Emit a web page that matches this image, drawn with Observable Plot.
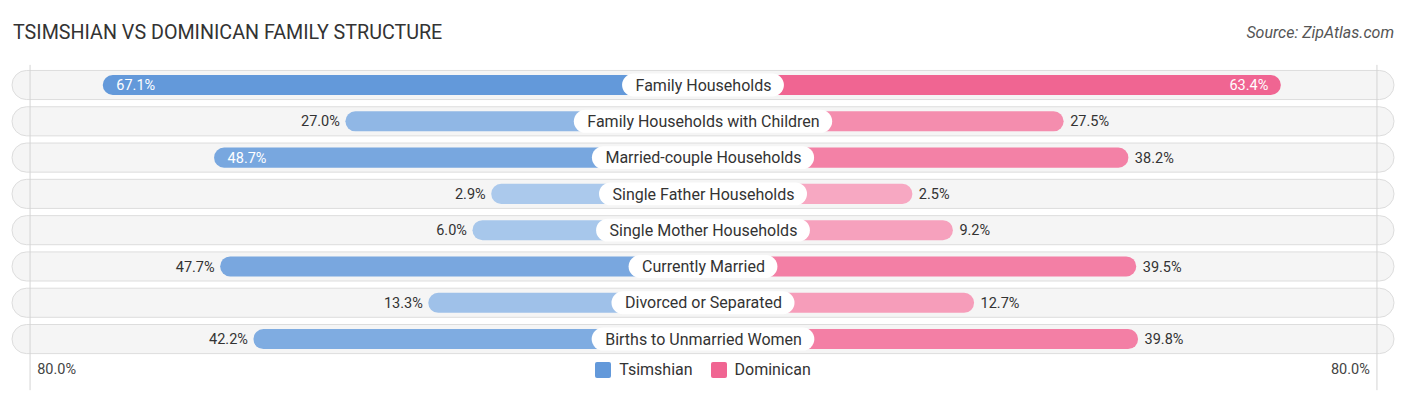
<!DOCTYPE html>
<html><head><meta charset="utf-8">
<script src="https://cdn.jsdelivr.net/npm/d3@7"></script>
<script src="https://cdn.jsdelivr.net/npm/@observablehq/plot@0.6"></script>
<style>
body{margin:0;background:#fff;font-family:Roboto,sans-serif;}
#wrap{position:relative;width:1406px;height:395px;overflow:hidden;}
#title{position:absolute;left:13px;top:21px;font-size:19.7px;line-height:24px;color:#333;}
#source{position:absolute;right:12px;top:23px;font-size:16px;line-height:20px;font-style:italic;color:#555}
#chart{position:absolute;left:0;top:60px}
#legend{position:absolute;left:0;width:1406px;top:360px;display:flex;justify-content:center;align-items:center;gap:18px;font-size:16px;line-height:20px;color:#333}
.li{display:flex;align-items:center;gap:8px}
.sw{width:16px;height:16px;border-radius:2px;display:inline-block}
</style></head>
<body><div id="wrap">
<div id="title">TSIMSHIAN VS DOMINICAN FAMILY STRUCTURE</div>
<div id="source">Source: ZipAtlas.com</div>
<div id="chart"></div>
<div id="legend"></div>
</div>
<script>
const categories = ["Family Households","Family Households with Children","Married-couple Households","Single Father Households","Single Mother Households","Currently Married","Divorced or Separated","Births to Unmarried Women"];
const tsimshian = [67.1,27.0,48.7,2.9,6.0,47.7,13.3,42.2];
const dominican = [63.4,27.5,38.2,2.5,9.2,39.5,12.7,39.8];
const seriesNames = ["Tsimshian","Dominican"];
const axisMax = 80;
const axisLabel = "80.0%";

// layout / style constants
const W = 1406, H = 335;
const OFFSET = 32.1;      // bar start offset (scale units) under centre label
const X_EXT = 114.2;      // half-extent of the background pill
const fullColors = ["#6399da", "#f06592"];
const lightColors = ["#aecbed", "#f7abc4"];
const INSIDE_MIN = 48;
const LABEL_FONT = 16;

const rows = [];
categories.forEach((c, i) => {
  rows.push({cat: c, side: -1, s: 0, v: tsimshian[i]});
  rows.push({cat: c, side: 1, s: 1, v: dominican[i]});
});
const maxV = [d3.max(tsimshian), d3.max(dominican)];
const interps = [0,1].map(k => d3.interpolateRgb(lightColors[k], fullColors[k]));
const fillOf = d => interps[d.s](d.v / maxV[d.s]);
const xEnd = d => d.side * (OFFSET + d.v);
const fmt = v => v.toFixed(1) + "%";

const mL = 12, mR = 12;
const pxPerUnit = (W - mL - mR) / (2 * X_EXT);
const cv = document.createElement("canvas").getContext("2d");
cv.font = LABEL_FONT + "px Roboto";
const labels = categories.map(c => ({cat: c, half: (cv.measureText(c).width / 2 + 13) / pxPerUnit}));

const inside = d => d.v >= INSIDE_MIN;
const chart = Plot.plot({
  width: W, height: H,
  marginLeft: mL, marginRight: mR, marginTop: 6.86, marginBottom: 37.8,
  x: {domain: [-X_EXT, X_EXT], axis: null},
  y: {domain: categories, axis: null, padding: 0, round: false},
  style: {fontFamily: "Roboto, sans-serif", background: "transparent"},
  marks: [
    Plot.barX(categories, {y: d => d, x1: -X_EXT, x2: X_EXT, insetTop: 3.6, insetBottom: 3.6, rx: 14.5, fill: "#f5f5f5", stroke: "#dddddd", strokeWidth: 1}),
    Plot.ruleX([-(axisMax + OFFSET - 0.8), axisMax + OFFSET - 0.8], {stroke: "#d4d4d4", strokeWidth: 1, insetTop: -2, insetBottom: -33}),
    Plot.barX(rows, {y: "cat", x1: 0, x2: xEnd, insetTop: 8.1, insetBottom: 8.1, rx: 10, fill: fillOf}),
    Plot.barX(labels, {y: "cat", x1: d => -d.half, x2: d => d.half, insetTop: 6.7, insetBottom: 6.7, rx: 11.5, fill: "white"}),
    Plot.text(labels, {y: "cat", x: 0, text: "cat", fontSize: LABEL_FONT, fill: "#333"}),
    Plot.text(rows.filter(d => d.side < 0 && inside(d)), {y: "cat", x: xEnd, text: d => fmt(d.v), textAnchor: "start", dx: 13, fontSize: 14.5, fill: "white"}),
    Plot.text(rows.filter(d => d.side < 0 && !inside(d)), {y: "cat", x: xEnd, text: d => fmt(d.v), textAnchor: "end", dx: -6, fontSize: 14.5, fill: "#333"}),
    Plot.text(rows.filter(d => d.side > 0 && inside(d)), {y: "cat", x: xEnd, text: d => fmt(d.v), textAnchor: "end", dx: -13, fontSize: 14.5, fill: "white"}),
    Plot.text(rows.filter(d => d.side > 0 && !inside(d)), {y: "cat", x: xEnd, text: d => fmt(d.v), textAnchor: "start", dx: 6, fontSize: 14.5, fill: "#333"}),
    Plot.text([-(axisMax + OFFSET)], {x: d => d, text: () => axisLabel, frameAnchor: "bottom", dy: 16, dx: 12, textAnchor: "start", fontSize: 14.5, fill: "#444"}),
    Plot.text([axisMax + OFFSET], {x: d => d, text: () => axisLabel, frameAnchor: "bottom", dy: 16, dx: -12, textAnchor: "end", fontSize: 14.5, fill: "#444"})
  ]
});
document.getElementById("chart").appendChild(chart);

const lg = document.getElementById("legend");
seriesNames.forEach((n, k) => {
  const it = document.createElement("div"); it.className = "li";
  const sw = document.createElement("span"); sw.className = "sw"; sw.style.background = fullColors[k];
  const tx = document.createElement("span"); tx.textContent = n;
  it.appendChild(sw); it.appendChild(tx); lg.appendChild(it);
});
</script>
</body></html>
